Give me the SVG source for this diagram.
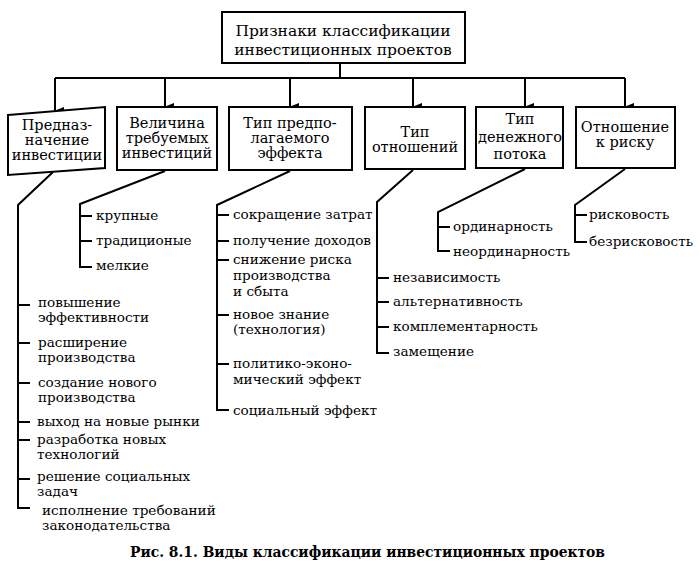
<svg xmlns="http://www.w3.org/2000/svg" width="700" height="585" viewBox="0 0 700 585">
<style>
.box{fill:#fff;stroke:#000;stroke-width:2}
.ln{fill:none;stroke:#000;stroke-width:2}
text{font-family:'DejaVu Serif','Liberation Serif',serif;fill:#000}
.t{font-size:13.6px}
.bt{font-size:14.5px;text-anchor:middle}
.tt{font-size:15.5px;text-anchor:middle}
.cap{font-size:15px;font-weight:bold}
</style>
<defs>
<marker id="ah" markerWidth="8" markerHeight="10" refX="4" refY="9" orient="auto" markerUnits="userSpaceOnUse" viewBox="0 0 8 10">
<path d="M0,0 L8,0 L4,10 Z" fill="#000"/>
</marker>
</defs>
<rect width="700" height="585" fill="#fff"/>
<g id="connectors">
<path class="ln" d="M340,63 V78 M55,78 H625"/>
<path class="ln" d="M55,78 V111" marker-end="url(#ah)"/>
<path class="ln" d="M165,78 V107" marker-end="url(#ah)"/>
<path class="ln" d="M290,78 V107" marker-end="url(#ah)"/>
<path class="ln" d="M413,78 V107" marker-end="url(#ah)"/>
<path class="ln" d="M525,78 V107" marker-end="url(#ah)"/>
<path class="ln" d="M625,78 V107" marker-end="url(#ah)"/>
<path class="ln" d="M53,172 L18,205 V508 H30 M18,305 H30 M18,343 H30 M18,383 H30 M18,422 H30 M18,440 H30 M18,479 H30"/>
<path class="ln" d="M165,171 L80,204 V267 H92 M80,216 H92 M80,241 H92"/>
<path class="ln" d="M290,171 L217,205 V410 H229 M217,215 H229 M217,241 H229 M217,260 H229 M217,315 H229 M217,364 H229"/>
<path class="ln" d="M413,170 L377,202 V353 H389 M377,278 H389 M377,302 H389 M377,327 H389"/>
<path class="ln" d="M525,169 L438,212 V251 H450 M438,227 H450"/>
<path class="ln" d="M625,169 L575,205 V242 H587 M575,215 H587"/>
</g>
<g id="root">
<rect class="box" x="222" y="12" width="243" height="51"/>
<text class="tt" x="343" y="36">Признаки классификации</text>
<text class="tt" x="343" y="55">инвестиционных проектов</text>
</g>
<g id="n1">
<polygon class="box" points="8,115 105,107 105,168 8,175"/>
<text class="bt" x="57" y="130">Предназ-</text>
<text class="bt" x="57" y="145">начение</text>
<text class="bt" x="57" y="160">инвестиции</text>
</g>
<g id="n2">
<rect class="box" x="117" y="107" width="100" height="63"/>
<text class="bt" x="167" y="128">Величина</text>
<text class="bt" x="167" y="143">требуемых</text>
<text class="bt" x="167" y="158">инвестиций</text>
</g>
<g id="n3">
<rect class="box" x="229" y="107" width="123" height="63"/>
<text class="bt" x="290" y="128">Тип предпо-</text>
<text class="bt" x="290" y="143">лагаемого</text>
<text class="bt" x="290" y="158">эффекта</text>
</g>
<g id="n4">
<rect class="box" x="365" y="107" width="100" height="62"/>
<text class="bt" x="415" y="137">Тип</text>
<text class="bt" x="415" y="152">отношений</text>
</g>
<g id="n5">
<rect class="box" x="476" y="107" width="87" height="61"/>
<text class="bt" x="520" y="124">Тип</text>
<text class="bt" x="520" y="142">денежного</text>
<text class="bt" x="520" y="159">потока</text>
</g>
<g id="n6">
<rect class="box" x="576" y="107" width="99" height="61"/>
<text class="bt" x="625" y="132">Отношение</text>
<text class="bt" x="625" y="147">к риску</text>
</g>
<g id="list1">
<text class="t" x="38" y="307">повышение</text>
<text class="t" x="38" y="322">эффективности</text>
<text class="t" x="38" y="347">расширение</text>
<text class="t" x="38" y="362">производства</text>
<text class="t" x="38" y="387">создание нового</text>
<text class="t" x="38" y="402">производства</text>
<text class="t" x="37" y="426">выход на новые рынки</text>
<text class="t" x="37" y="444">разработка новых</text>
<text class="t" x="37" y="459">технологий</text>
<text class="t" x="37" y="481">решение социальных</text>
<text class="t" x="37" y="496">задач</text>
<text class="t" x="42" y="515">исполнение требований</text>
<text class="t" x="42" y="530">законодательства</text>
</g>
<g id="list2">
<text class="t" x="96" y="220">крупные</text>
<text class="t" x="96" y="245">традиционые</text>
<text class="t" x="96" y="270">мелкие</text>
</g>
<g id="list3">
<text class="t" x="233" y="219">сокращение затрат</text>
<text class="t" x="233" y="245">получение доходов</text>
<text class="t" x="233" y="264">снижение риска</text>
<text class="t" x="233" y="280">производства</text>
<text class="t" x="233" y="296">и сбыта</text>
<text class="t" x="233" y="319">новое знание</text>
<text class="t" x="233" y="334">(технология)</text>
<text class="t" x="233" y="368">политико-эконо-</text>
<text class="t" x="233" y="384">мический эффект</text>
<text class="t" x="233" y="415">социальный эффект</text>
</g>
<g id="list4">
<text class="t" x="393" y="282">независимость</text>
<text class="t" x="393" y="306">альтернативность</text>
<text class="t" x="393" y="331">комплементарность</text>
<text class="t" x="393" y="356">замещение</text>
</g>
<g id="list5">
<text class="t" x="453" y="231">ординарность</text>
<text class="t" x="453" y="256">неординарность</text>
</g>
<g id="list6">
<text class="t" x="589" y="219">рисковость</text>
<text class="t" x="589" y="246">безрисковость</text>
</g>
<text class="cap" x="130" y="557" textLength="475" lengthAdjust="spacingAndGlyphs">Рис. 8.1. Виды классификации инвестиционных проектов</text>
</svg>
